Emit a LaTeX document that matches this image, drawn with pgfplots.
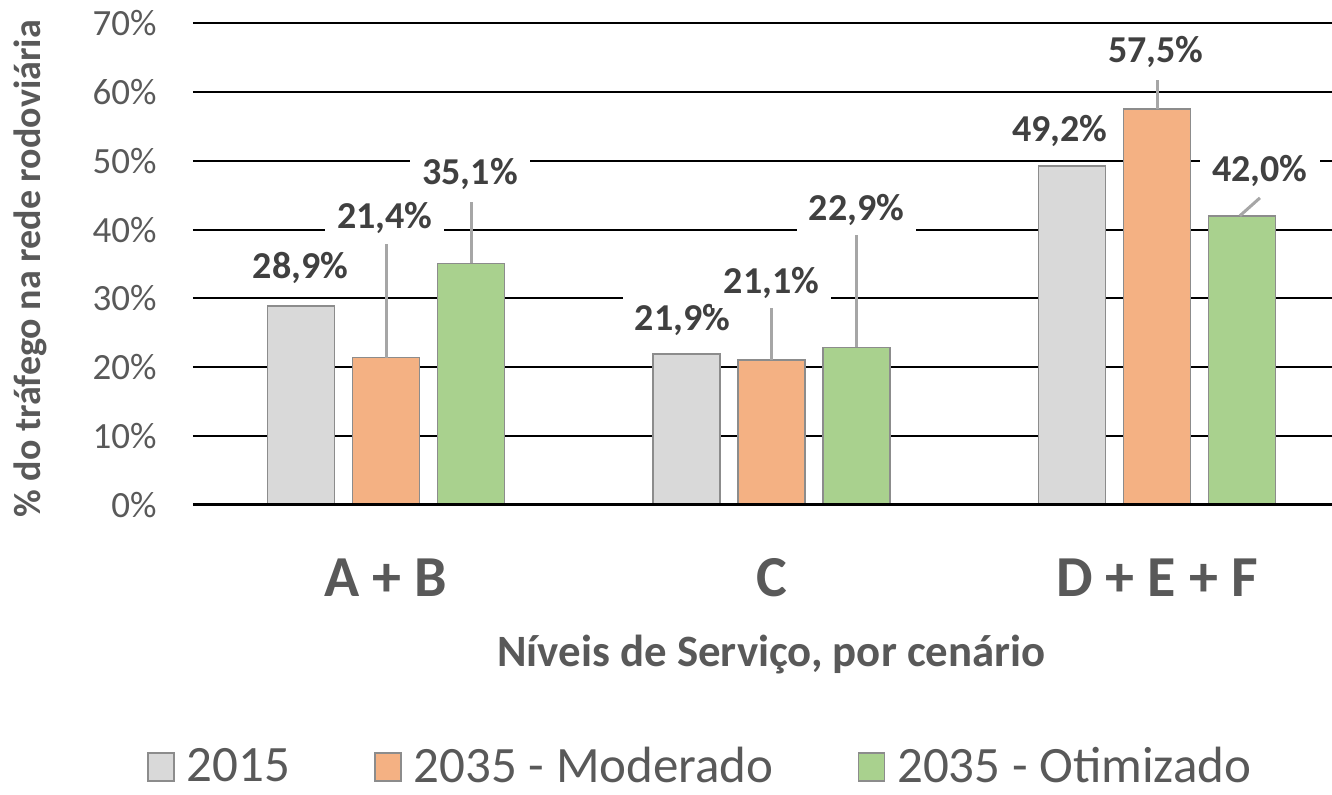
\documentclass[border=0pt]{standalone}
\usepackage{fontspec}
\setmainfont{Carlito}
\usepackage{pgfplots}
\pgfplotsset{compat=1.18}
\definecolor{cGray}{HTML}{D9D9D9}
\definecolor{cOrange}{HTML}{F4B183}
\definecolor{cGreen}{HTML}{A9D18E}
\definecolor{cEdge}{HTML}{8C8C8C}
\definecolor{cText}{HTML}{595959}
\definecolor{cLabel}{HTML}{404040}
\definecolor{cLeader}{HTML}{A6A6A6}
\pgfplotsset{sqlegend/.style={legend image code/.code={\draw[##1,line width=0.8pt] (0pt,-7.5pt) rectangle (13pt,6.5pt);}}}
\begin{document}
\begin{tikzpicture}[
  lbl/.style={fill=white, inner xsep=6pt, inner ysep=4.5pt, text=cLabel, font=\fontsize{19}{22}\selectfont\bfseries},
  leader/.style={cLeader, line width=1.5pt}]
\useasboundingbox (-96.5pt,-145pt) rectangle (569.5pt,252.5pt);
\begin{axis}[
  at={(0,0)}, anchor=south west,
  scale only axis, width=569.5pt, height=241pt,
  xmin=-0.5007, xmax=2.454, ymin=0, ymax=70,
  clip=false,
  ybar, bar width=33.5pt,
  axis line style={draw=none},
  tick style={draw=none},
  ymajorgrids, major grid style={black, line width=1pt},
  ytick={0,10,...,70},
  yticklabel={\pgfmathprintnumber{\tick}\%},
  /pgf/number format/assume math mode=true,
  yticklabel style={font=\fontsize{18.5}{22}\selectfont, text=cText, anchor=east, inner sep=0pt, xshift=-18pt},
  xtick={0,1,2},
  xticklabels={A + B, C, D + E + F},
  xticklabel style={font=\fontsize{29}{33}\selectfont\bfseries, text=cText, anchor=base, inner sep=0pt, yshift=-41.5pt},
  legend columns=3,
  legend style={at={(axis description cs:0,0)}, anchor=west, xshift=-23pt, yshift=-130.5pt,
    draw=none, fill=none, inner sep=0pt, font=\fontsize{25.5}{30}\selectfont, text=cText,
    nodes={inner sep=0pt},
    /tikz/every odd column/.append style={column sep=6pt},
    /tikz/every even column/.append style={column sep=42pt}},
]
\addplot[fill=cGray, draw=cEdge, line width=0.8pt, bar shift=-42.5pt, sqlegend] coordinates {(0,28.9) (1,21.9) (2,49.2)};
\addplot[fill=cOrange, draw=cEdge, line width=0.8pt, bar shift=0pt, sqlegend] coordinates {(0,21.4) (1,21.1) (2,57.5)};
\addplot[fill=cGreen, draw=cEdge, line width=0.8pt, bar shift=42.5pt, sqlegend] coordinates {(0,35.1) (1,22.9) (2,42.0)};
\legend{2015, 2035 - Moderado, 2035 - Otimizado}
\draw[black, line width=1.5pt] (axis cs:-0.5007,0) -- (axis cs:2.454,0);
% leader lines
\draw[leader] (axis cs:0,21.4) -- (axis cs:0,37.9);
\draw[leader] (axis cs:0.2205,35.1) -- (axis cs:0.2205,44.0);
\draw[leader] (axis cs:1,21.1) -- (axis cs:1,28.9);
\draw[leader] (axis cs:1.2205,22.9) -- (axis cs:1.2205,39.5);
\draw[leader] (axis cs:2,57.5) -- (axis cs:2,61.7);
\draw[leader] (axis cs:2.215,42.0) -- (axis cs:2.267,44.6);
% data labels
\node[lbl] at (axis cs:-0.222,34.4) {28,9\%};
\node[lbl] at (axis cs:-0.003,41.7) {21,4\%};
\node[lbl] at (axis cs:0.218,48.1) {35,1\%};
\node[lbl] at (axis cs:0.769,26.9) {21,9\%};
\node[lbl] at (axis cs:1.0,32.2) {21,1\%};
\node[lbl] at (axis cs:1.2205,42.8) {22,9\%};
\node[lbl] at (axis cs:1.748,54.3) {49,2\%};
\node[lbl] at (axis cs:1.997,65.8) {57,5\%};
\node[lbl] at (axis cs:2.267,48.5) {42,0\%};
% axis titles
\node[font=\fontsize{22.4}{26}\selectfont\bfseries, text=cText, anchor=base] at (axis cs:1,-23.5) {Níveis de Serviço, por cenário};
\node[rotate=90, font=\fontsize{19}{22}\selectfont\bfseries, text=cText, anchor=base] at (axis cs:-0.895,34.3) {\% do tráfego na rede rodoviária};
\end{axis}
\end{tikzpicture}
\end{document}
